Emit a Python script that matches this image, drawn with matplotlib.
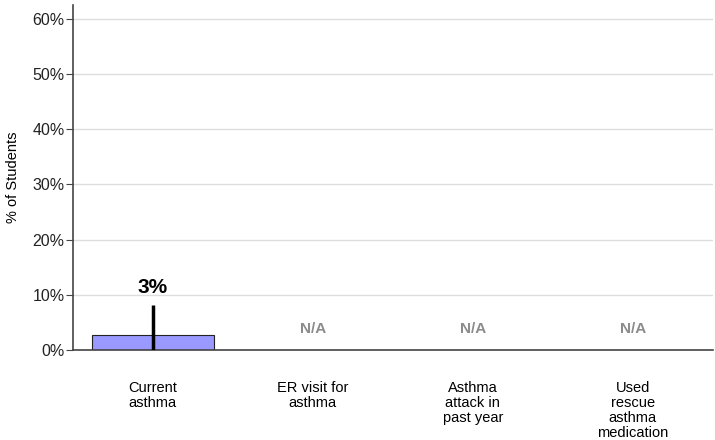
import matplotlib
matplotlib.use('Agg')
import matplotlib.pyplot as plt

plt.rcParams['font.family'] = ['Liberation Sans', 'DejaVu Sans']

categories = ['Current\nasthma', 'ER visit for\nasthma', 'Asthma\nattack in\npast year',
              'Used\nrescue\nasthma\nmedication']
values = [2.8, None, None, None]
err_low = [2.8, None, None, None]
err_high = [5.4, None, None, None]
labels = ['3%', 'N/A', 'N/A', 'N/A']
yticks = [0, 10, 20, 30, 40, 50, 60]

fig = plt.figure(figsize=(7.15, 4.4), dpi=100)
ax = fig.add_axes([0.102, 0.2045, 0.895, 0.7845])

for i, v in enumerate(values):
    if v is None:
        ax.text(i, 3.8, labels[i], ha='center', va='center', fontsize=11,
                fontweight='bold', color='#8c8c8c')
        continue
    ax.bar(i, v, width=0.76, color='#9999ff', edgecolor='#222222', linewidth=0.8, zorder=2)
    ax.errorbar(i, v, yerr=[[err_low[i]], [err_high[i]]], fmt='none', ecolor='black',
                elinewidth=2.5, capsize=0, zorder=3)
    ax.text(i, v + err_high[i] + 1.4, labels[i], ha='center', va='bottom', fontsize=15,
            fontweight='bold', color='black')

ax.set_xlim(-0.5, 3.5)
ax.set_ylim(0, 62.5)
ax.set_yticks(yticks)
ax.set_yticklabels([f'{t}%' for t in yticks], fontsize=11.5, color='#222222')
ax.set_xticks(range(len(categories)))
ax.set_xticklabels(categories, fontsize=10.5, linespacing=1.1, va='top')
ax.tick_params(axis='x', length=0, pad=22)
ax.tick_params(axis='y', length=5, width=0.8, color='#444444', pad=1)
ax.grid(axis='y', color='#dddddd', linewidth=1, zorder=0)
ax.set_axisbelow(True)
ax.set_ylabel('% of Students', fontsize=10.5, labelpad=9)
for s in ['top', 'right']:
    ax.spines[s].set_visible(False)
for s in ['left', 'bottom']:
    ax.spines[s].set_color('#444444')
    ax.spines[s].set_linewidth(1.2)

fig.savefig('out.png', dpi=100)
